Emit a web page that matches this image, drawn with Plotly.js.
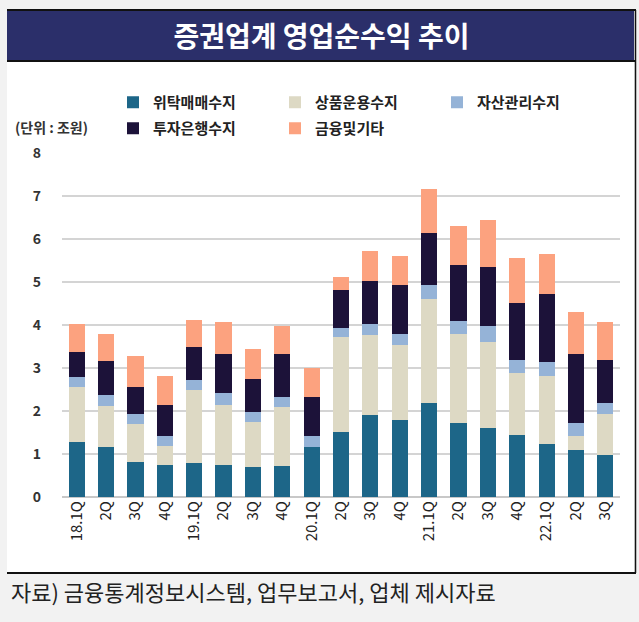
<!DOCTYPE html>
<html><head><meta charset="utf-8">
<script src="https://cdn.plot.ly/plotly-3.0.1.min.js"></script>
<style>html,body{margin:0;padding:0;background:#f2f2f2}#chart{width:639px;height:622px}</style>
</head><body><div id="chart"></div>
<script>
const quarters = ["18.1Q","2Q","3Q","4Q","19.1Q","2Q","3Q","4Q","20.1Q","2Q","3Q","4Q","21.1Q","2Q","3Q","4Q","22.1Q","2Q","3Q"];
const brokerage = [1.28,1.17,0.81,0.75,0.78,0.75,0.70,0.73,1.17,1.51,1.90,1.78,2.19,1.72,1.60,1.44,1.23,1.09,0.98];
const trading   = [1.28,0.94,0.89,0.44,1.71,1.40,1.04,1.36,0.00,2.20,1.87,1.75,2.41,2.07,2.01,1.44,1.59,0.34,0.95];
const assetMgmt = [0.24,0.27,0.23,0.24,0.23,0.28,0.24,0.24,0.24,0.22,0.26,0.27,0.33,0.31,0.37,0.31,0.33,0.29,0.26];
const ib        = [0.58,0.79,0.63,0.71,0.78,0.89,0.77,0.99,0.92,0.89,1.00,1.13,1.20,1.30,1.36,1.33,1.56,1.60,1.00];
const other     = [0.65,0.63,0.73,0.68,0.61,0.74,0.70,0.66,0.68,0.29,0.68,0.68,1.03,0.91,1.10,1.04,0.95,0.99,0.89];
const seriesNames = ["위탁매매수지","상품운용수지","자산관리수지","투자은행수지","금융및기타"];
const yTicks = [0,1,2,3,4,5,6,7,8];

const colors = ["#1d6688","#ddd9c4","#95b3d7","#1c1239","#fca27f"];
const xs = quarters.map((q,i)=>i);
const data = [brokerage,trading,assetMgmt,ib,other].map((vals,k)=>({
  type:"bar", x:xs, y:vals, name:seriesNames[k],
  marker:{color:colors[k], line:{width:0}},
  legend: k<3 ? "legend" : "legend2",
  hoverinfo:"name+y"
}));

const FONT = "Noto Sans CJK KR, Noto Sans, sans-serif";
// plot area px: x 62..620, y 153..497
const L=62, R=620, T=153, B=497, W=R-L, H=B-T;
const px = v => (v-L)/W, py = v => (B-v)/H;

const legendBase = {orientation:"h", xanchor:"left", yanchor:"top",
  entrywidth:117, entrywidthmode:"pixels", bgcolor:"rgba(0,0,0,0)",
  font:{family:FONT, size:15, color:"#222", weight:"bold"}, traceorder:"normal", itemclick:false};

const layout = {
  width:639, height:622,
  margin:{l:L, r:639-R, t:T, b:622-B, pad:0},
  paper_bgcolor:"#f2f2f2", plot_bgcolor:"rgba(0,0,0,0)",
  font:{family:FONT, color:"#222"},
  barmode:"stack", bargap:0.45,
  title:{text:"증권업계 영업순수익 추이", font:{family:FONT, size:28, color:"#ffffff", weight:"bold"},
         xref:"container", x:0.503, xanchor:"center", yref:"container", y:1-37/622, yanchor:"middle"},
  xaxis:{tickvals:xs, ticktext:quarters, tickangle:-90, range:[-0.5, quarters.length-0.5],
         showgrid:false, zeroline:false, showline:false, ticks:"",
         tickfont:{family:FONT, size:15, color:"#222"}},
  yaxis:{range:[0,8], tickvals:yTicks, showgrid:true, gridcolor:"#d4d4d4", gridwidth:1.5,
         zeroline:true, zerolinecolor:"#c8c8c8", zerolinewidth:1.5, showline:false, ticks:"",
         ticklabelstandoff:20,
         tickfont:{family:FONT, size:14, color:"#333", weight:"bold"}},
  legend: Object.assign({}, legendBase, {x:px(113), y:py(86)}),
  legend2: Object.assign({}, legendBase, {x:px(113), y:py(112)}),
  shapes:[
    {type:"rect", xref:"paper", yref:"paper", x0:px(7), x1:px(634), y0:py(573), y1:py(10), fillcolor:"#ffffff", line:{width:0}, layer:"below"},
    {type:"rect", xref:"paper", yref:"paper", x0:px(7), x1:px(634), y0:py(61), y1:py(10), fillcolor:"#2b2f6a", line:{width:0}, layer:"below"},
    {type:"line", xref:"paper", yref:"paper", x0:px(7), x1:px(636), y0:py(10), y1:py(10), line:{color:"#111", width:2}},
    {type:"line", xref:"paper", yref:"paper", x0:px(7), x1:px(636), y0:py(61), y1:py(61), line:{color:"#111", width:2}},
    {type:"line", xref:"paper", yref:"paper", x0:px(7), x1:px(636), y0:py(573), y1:py(573), line:{color:"#111", width:2}},
    {type:"line", xref:"paper", yref:"paper", x0:px(635.5), x1:px(635.5), y0:py(573), y1:py(10), line:{color:"#111", width:1.5}}
  ],
  annotations:[
    {text:"(단위 : 조원)", xref:"paper", yref:"paper", x:px(13), y:py(127), xanchor:"left", yanchor:"middle", showarrow:false,
     font:{family:FONT, size:14, color:"#333", weight:"bold"}},
    {text:"자료) 금융통계정보시스템, 업무보고서, 업체 제시자료", xref:"paper", yref:"paper", x:px(9), y:py(591), xanchor:"left", yanchor:"middle", showarrow:false,
     font:{family:FONT, size:22, color:"#222"}}
  ]
};
Plotly.newPlot("chart", data, layout, {displayModeBar:false, staticPlot:true});
</script></body></html>
